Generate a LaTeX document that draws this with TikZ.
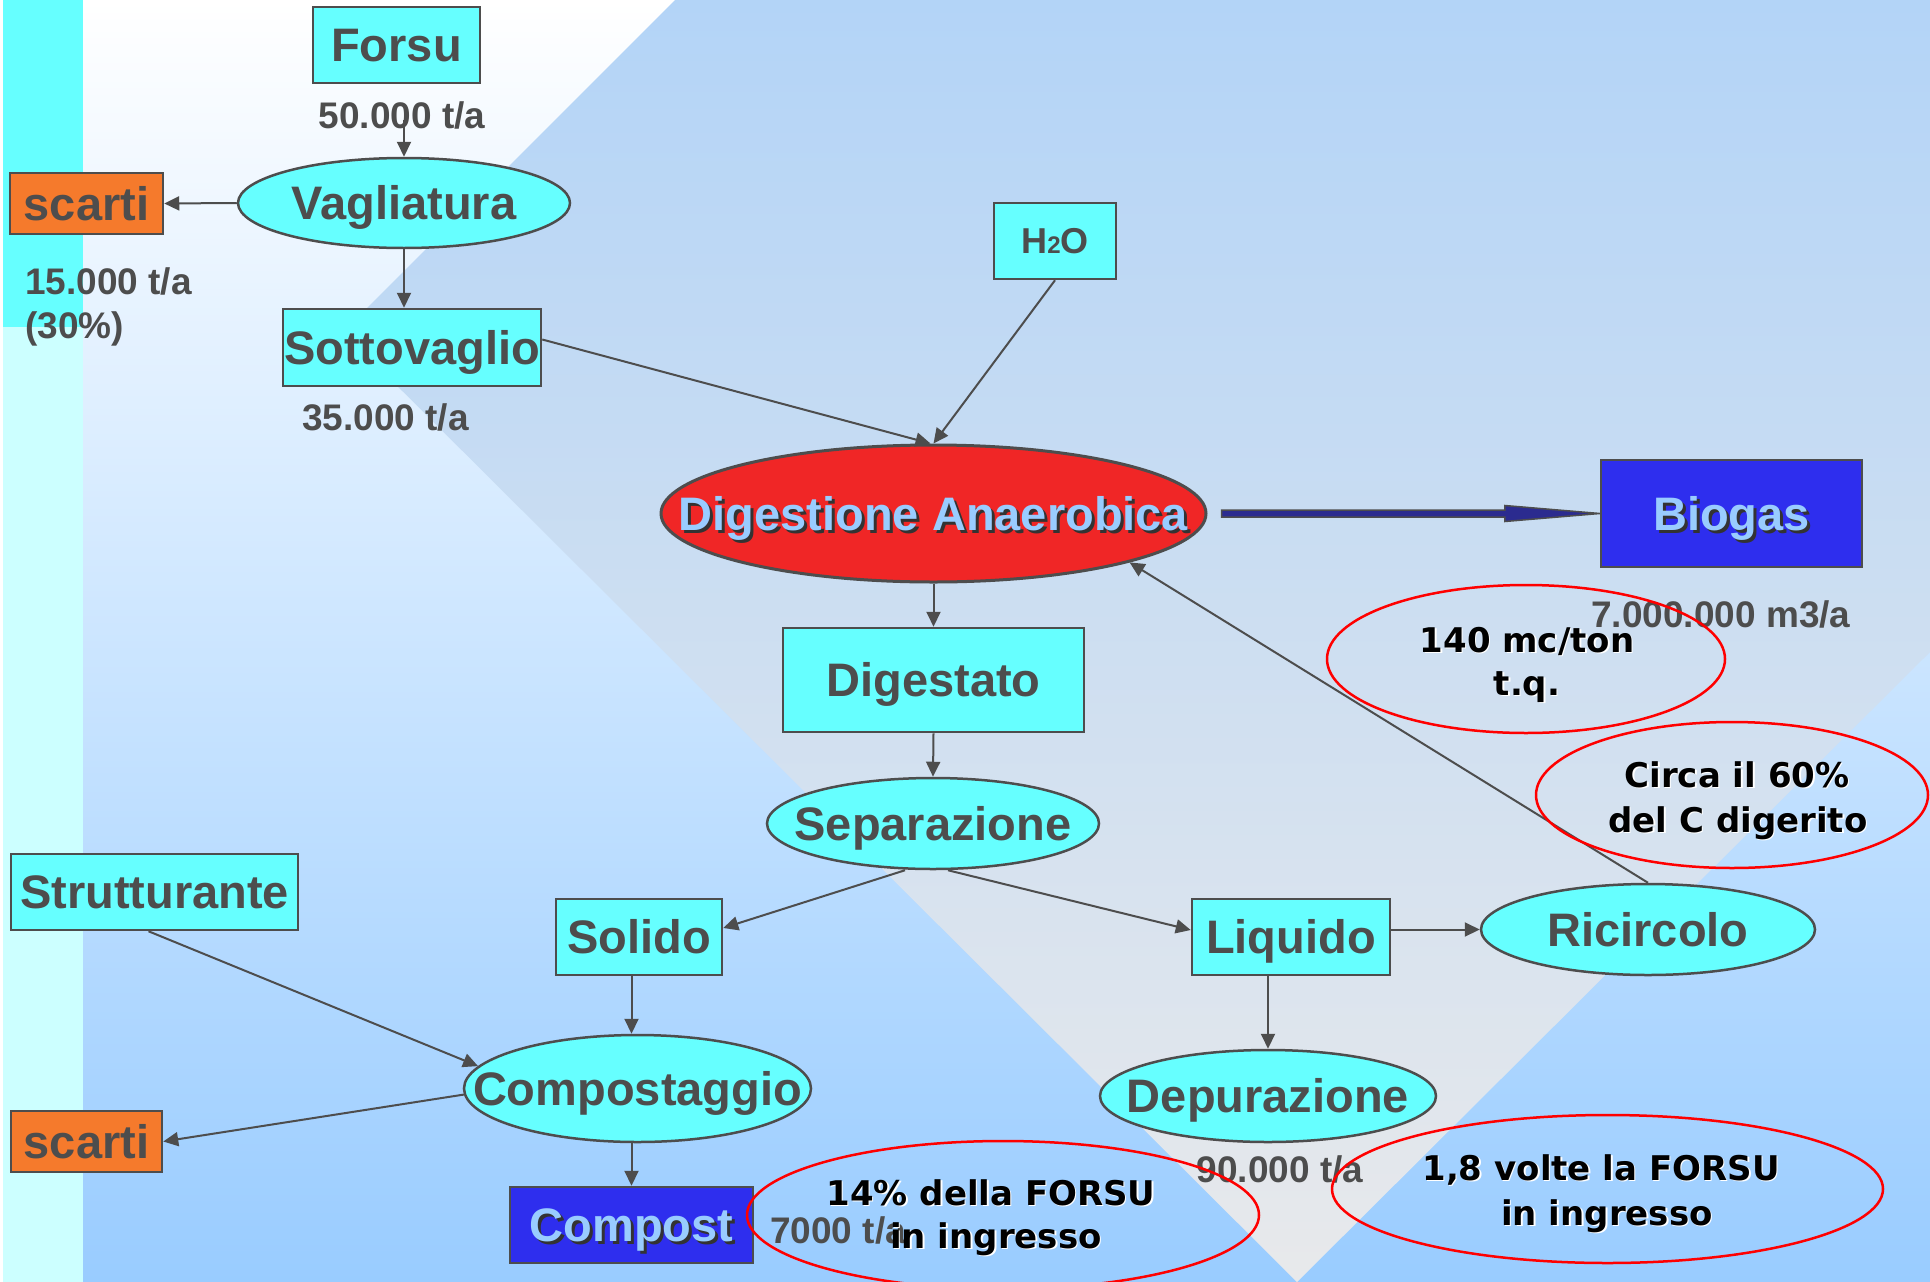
\documentclass[tikz,border=0pt]{standalone}
\usepackage{fontspec}
\setmainfont{Liberation Sans}
\newfontfamily\annfont{DejaVu Sans}
\usetikzlibrary{shapes.geometric,arrows.meta,calc}
\definecolor{lc}{HTML}{4D4D4D}
\definecolor{cy}{HTML}{66FFFF}
\definecolor{pcy}{HTML}{CCFFFF}
\definecolor{org}{HTML}{F57A2C}
\definecolor{bl}{HTML}{2E2EEE}
\definecolor{rd}{HTML}{F02626}
\definecolor{lb}{HTML}{99CCFF}
\definecolor{nv}{HTML}{2B2B8F}
\definecolor{bgtop}{HTML}{B3D4F7}
\definecolor{bgbot}{HTML}{E8E9EB}
\definecolor{outbot}{HTML}{99CCFF}
\definecolor{shd}{HTML}{333333}
\newcommand\annline[4]{\node[annsh] (#1s) at ({#2+1.5},{#3+1.5}) {#4};\node[ann] (#1) at (#2,#3) {#4};}
\newcommand\shtext[3]{\node[dk] (#1s) at ([shift={(3,3)}]#2) {#3};\node[lt] (#1) at (#2) {#3};}
\begin{document}
\begin{tikzpicture}[x=1pt,y=-1pt,
  bigfont/.style={font=\bfseries\fontsize{47}{56}\selectfont, text height=33.7pt, text depth=0pt},
  box/.style={rectangle, draw=lc, line width=2.5pt, inner sep=0pt, bigfont, text=lc},
  cybox/.style={box, fill=cy},
  orbox/.style={box, fill=org},
  blbox/.style={box, fill=bl},
  oval/.style={ellipse, draw=lc, line width=2.5pt, inner sep=0pt, fill=cy},
  lbl/.style={bigfont, text=lc, inner sep=0pt},
  lt/.style={bigfont, text=lb, inner sep=0pt},
  dk/.style={bigfont, text=shd, inner sep=0pt},
  num/.style={font=\bfseries\fontsize{37}{44}\selectfont, text=lc, inner sep=0pt, anchor=base},
  ann/.style={font=\annfont\bfseries\fontsize{34}{42}\selectfont, text=black, inner sep=0pt, anchor=base},
  annsh/.style={ann, text=white},
  note/.style={ellipse, draw=red, line width=2.5pt, inner sep=0pt},
  arr/.style={draw=lc, line width=2pt, -{Triangle[length=15pt,width=14pt]}},
]
\useasboundingbox (0,0) rectangle (1930,1282);
% background
\shade[top color=white, bottom color=outbot] (0,0) rectangle (1930,1282);
\shade[top color=bgtop, bottom color=bgbot] (675,0) -- (343,332) -- (1297,1282) -- (1930,652) -- (1930,0) -- cycle;
\fill[white] (0,0) rectangle (3,1282);
\fill[cy] (3,0) rectangle (83,327);
\fill[pcy] (3,327) rectangle (83,1282);

% nodes
\node[cybox, minimum width=167pt, minimum height=76pt] (forsu) at (396.5,45) {Forsu};
\node[orbox, minimum width=153pt, minimum height=61pt] (scA) at (86.5,203.5) {scarti};
\node[cybox, minimum width=258pt, minimum height=77pt] (sotto) at (412,347.5) {Sottovaglio};
\node[cybox, minimum width=122pt, minimum height=76pt, font=\bfseries\fontsize{36}{42}\selectfont, text height=25.8pt] (h2o) at (1055,241) {H{\fontsize{24}{24}\selectfont 2}O};
\node[cybox, minimum width=301pt, minimum height=104pt] (dig) at (933.5,680) {Digestato};
\node[blbox, minimum width=261pt, minimum height=107pt] (bio) at (1731.5,513.5) {};
\node[cybox, minimum width=287pt, minimum height=76pt] (strut) at (154.5,892) {Strutturante};
\node[cybox, minimum width=166pt, minimum height=76pt] (sol) at (639,937) {Solido};
\node[cybox, minimum width=198pt, minimum height=76pt] (liq) at (1291,937) {Liquido};
\node[orbox, minimum width=151pt, minimum height=61pt] (scB) at (86.5,1141.5) {scarti};
\node[blbox, minimum width=243pt, minimum height=76pt] (comp) at (631.5,1225) {};

\node[oval, minimum width=332pt, minimum height=90pt] (vag) at (404,203) {};
\node[oval, fill=rd, line width=3pt, minimum width=545pt, minimum height=137pt] (da) at (933.5,513.5) {};
\node[oval, minimum width=332pt, minimum height=91pt] (sep) at (933,823.5) {};
\node[oval, minimum width=334pt, minimum height=91pt] (ric) at (1648,929.5) {};
\node[oval, minimum width=347pt, minimum height=107pt] (cpg) at (637.5,1088.5) {};
\node[oval, minimum width=336pt, minimum height=92pt] (dep) at (1268,1096) {};

\node[lbl] (vagt) at (vag) {Vagliatura};
\node[lbl] (sept) at (sep) {Separazione};
\node[lbl] (rict) at (ric) {Ricircolo};
\node[lbl] (cpgt) at (cpg) {Compostaggio};
\node[lbl] (dept) at (dep) {Depurazione};
\shtext{dat}{da}{Digestione Anaerobica}
\shtext{biot}{bio}{Biogas}
\shtext{compt}{comp}{Compost}

% thick arrow to biogas
\coordinate (bs) at ([xshift=14pt]da.east);
\coordinate (bt) at (bio.west);
\filldraw[fill=nv, draw=lc, line width=1.5pt] ($(bs)+(0,-3.5)$) -- ($(bt)+(-95,-3.5)$) -- ($(bt)+(-95,-8)$) -- (bt) -- ($(bt)+(-95,8)$) -- ($(bt)+(-95,3.5)$) -- ($(bs)+(0,3.5)$) -- cycle;

% connectors
\coordinate (fs) at (404,120);
\coordinate (cn) at ([xshift=-6pt]cpg.north);
\draw[arr] (fs) -- (vag.north);
\draw[arr] (vag.west) -- (scA.east);
\draw[arr] (vag.south) -- (vag.south |- sotto.north);
\draw[arr] ([yshift=8pt]sotto.east) -- ([xshift=-3pt]da.north);
\draw[arr] (h2o.south) -- (da.north);
\draw[arr] (da.south) -- (dig.north);
\draw[arr] (dig.south) -- (sep.north);
\draw[arr] ([xshift=-28pt]sep.south) -- ([yshift=9pt]sol.east);
\draw[arr] ([xshift=15pt]sep.south) -- ([yshift=7pt]liq.west);
\draw[arr] (liq.east |- ric.west) -- (ric.west);
\draw[arr] (ric.north) -- (da.-14);
\draw[arr] (dep.north |- liq.south) -- (dep.north);
\draw[arr] (cn |- sol.south) -- (cn);
\draw[arr] ([xshift=-6pt]strut.south) -- (cpg.172);
\draw[arr] (cpg.182) -- (scB.east);
\draw[arr] (cn |- cpg.south) -- (cn |- comp.north);

% numbers
\node[num] (n1) at (402,128) {50.000 t/a};
\node[num, anchor=base west] (n2) at (25,294) {15.000 t/a};
\node[num, anchor=base west] (n3) at (25,338) {(30\%)};
\node[num] (n4) at (385.5,430) {35.000 t/a};
\node[num] (n5) at (1721,627) {7.000.000 m3/a};
\node[num] (n6) at (1280,1182) {90.000 t/a};
\node[num, anchor=base west] (n7) at (770,1243) {7000 t/a};

% notes
\node[note, minimum width=398pt, minimum height=148pt] (e1) at (1526,659) {};
\node[note, minimum width=392pt, minimum height=146pt] (e2) at (1732,795) {};
\node[note, minimum width=512pt, minimum height=148pt] (e3) at (1003,1215) {};
\node[note, minimum width=551pt, minimum height=148pt] (e4) at (1607.5,1189) {};
\annline{a1}{1527}{652}{140 mc/ton}
\annline{a2}{1527}{695}{t.q.}
\annline{a3}{1737}{787}{Circa il 60\%}
\annline{a4}{1738}{832}{del C digerito}
\annline{a5}{991}{1205}{14\% della FORSU}
\annline{a6}{996}{1248}{in ingresso}
\annline{a7}{1601}{1180}{1,8 volte la FORSU}
\annline{a8}{1607}{1225}{in ingresso}
\end{tikzpicture}
\end{document}
